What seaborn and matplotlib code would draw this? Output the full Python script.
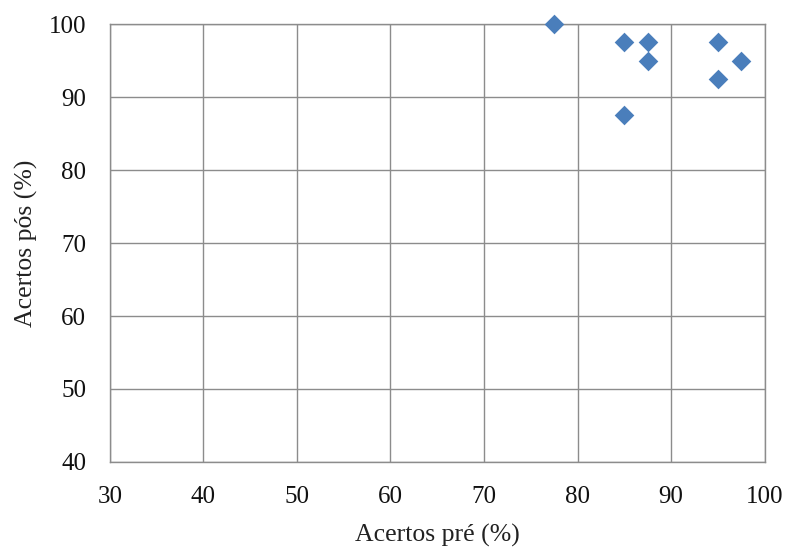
import matplotlib
matplotlib.use("Agg")
import matplotlib.pyplot as plt
import seaborn as sns
import pandas as pd

acertos_pre = [77.5, 85, 87.5, 87.5, 95, 97.5, 95, 85]
acertos_pos = [100, 97.5, 97.5, 95, 97.5, 95, 92.5, 87.5]
x_ticks = [30, 40, 50, 60, 70, 80, 90, 100]
y_ticks = [40, 50, 60, 70, 80, 90, 100]

df = pd.DataFrame({"pre": acertos_pre, "pos": acertos_pos})

sns.set_style("white")
fig = plt.figure(figsize=(7.9, 5.48), dpi=100)
ax = fig.add_axes([0.139, 0.157, 0.829, 0.799])

sns.scatterplot(data=df, x="pre", y="pos", marker="D", s=100, color="#4A7EBB",
                edgecolor="#4A7EBB", linewidth=0, ax=ax, clip_on=False, zorder=3)

ax.set_xlim(30, 100)
ax.set_ylim(40, 100)
ax.set_xticks(x_ticks)
ax.set_yticks(y_ticks)
ax.grid(True, color="#8C8C8C", linewidth=1.0)
ax.set_axisbelow(True)
for s in ax.spines.values():
    s.set_color("#8C8C8C")
    s.set_linewidth(1.0)
ax.tick_params(axis="both", direction="out", length=7, width=1.0, color="#8C8C8C",
               labelsize=18, pad=10)
for lab in ax.get_xticklabels() + ax.get_yticklabels():
    lab.set_family("Liberation Serif")
    lab.set_color("#111111")
ax.set_xlabel("Acertos pré (%)", family="Liberation Serif", fontsize=18.5, color="#222222", labelpad=12)
ax.set_ylabel("Acertos pós (%)", family="Liberation Serif", fontsize=18.5, color="#222222", labelpad=8)

fig.savefig("out.png", dpi=100)
